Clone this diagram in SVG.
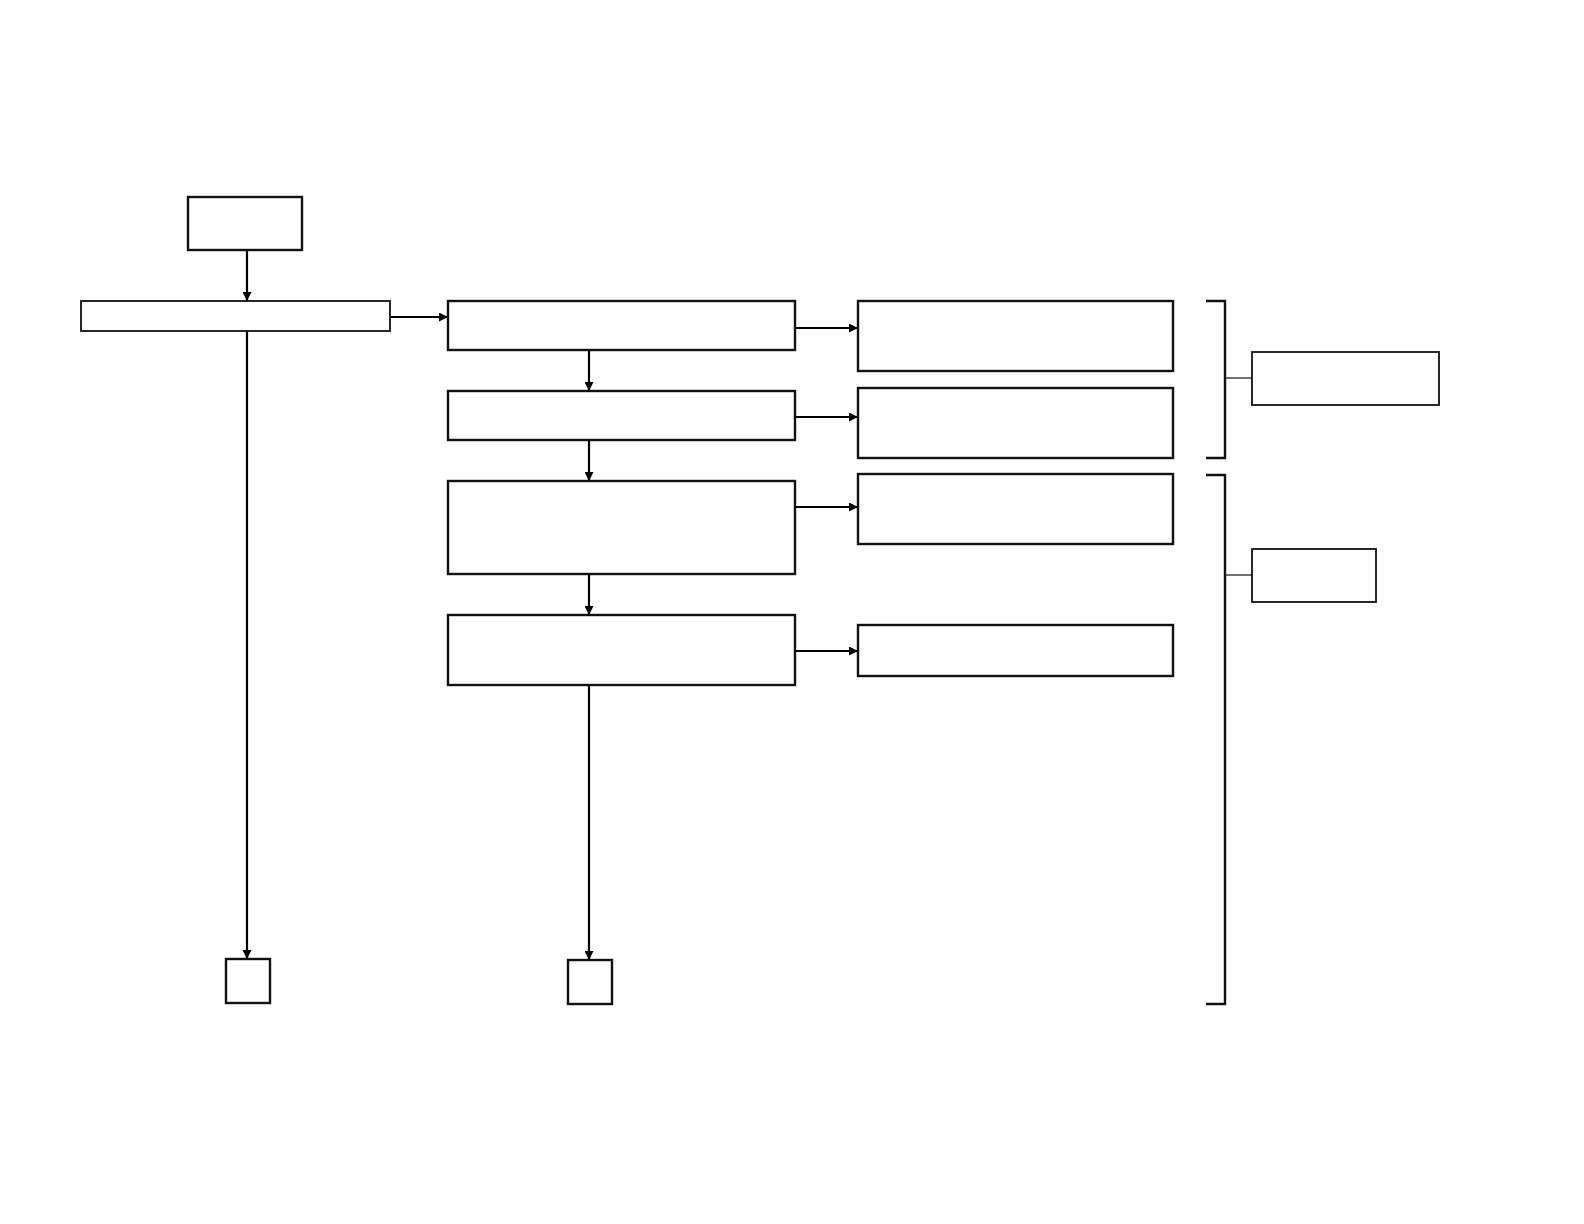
<svg xmlns="http://www.w3.org/2000/svg" width="1584" height="1224" viewBox="0 0 1584 1224">
<style>
.box{fill:#fff;stroke:#111;stroke-width:2.4}
.thin{fill:#fff;stroke:#111;stroke-width:1.8}
.arr{fill:none;stroke:#000;stroke-width:2.2;marker-end:url(#ah)}
.br{fill:none;stroke:#111;stroke-width:2.4}
.ln{fill:none;stroke:#222;stroke-width:1.3}
</style>
<defs>
<marker id="ah" viewBox="0 0 10 10" refX="10" refY="5" markerWidth="10" markerHeight="9" markerUnits="userSpaceOnUse" orient="auto">
<path d="M0,0 L10,5 L0,10 z" fill="#000"/>
</marker>
</defs>
<rect width="1584" height="1224" fill="#fff"/>
<g id="connectors">
<line class="arr" x1="247" y1="251" x2="247" y2="301"/>
<line class="arr" x1="390" y1="317" x2="448" y2="317"/>
<line class="arr" x1="247" y1="331" x2="247" y2="959"/>
<line class="arr" x1="589" y1="350" x2="589" y2="391"/>
<line class="arr" x1="589" y1="440" x2="589" y2="481"/>
<line class="arr" x1="589" y1="574" x2="589" y2="615"/>
<line class="arr" x1="589" y1="685" x2="589" y2="960"/>
<line class="arr" x1="795" y1="328" x2="858" y2="328"/>
<line class="arr" x1="795" y1="417" x2="858" y2="417"/>
<line class="arr" x1="795" y1="507" x2="858" y2="507"/>
<line class="arr" x1="795" y1="651" x2="858" y2="651"/>
<path class="br" d="M1206,301 H1225 V458 H1206"/>
<line class="ln" x1="1225" y1="378" x2="1252" y2="378"/>
<path class="br" d="M1206,475 H1225 V1004 H1206"/>
<line class="ln" x1="1225" y1="575" x2="1252" y2="575"/>
</g>
<g id="n-top"><rect class="box" x="188" y="197" width="114" height="53"/></g>
<g id="n-long"><rect class="thin" x="81" y="301" width="309" height="30"/></g>
<g id="n-a"><rect class="box" x="448" y="301" width="347" height="49"/></g>
<g id="n-b"><rect class="box" x="448" y="391" width="347" height="49"/></g>
<g id="n-c"><rect class="box" x="448" y="481" width="347" height="93"/></g>
<g id="n-d"><rect class="box" x="448" y="615" width="347" height="70"/></g>
<g id="n-r1"><rect class="box" x="858" y="301" width="315" height="70"/></g>
<g id="n-r2"><rect class="box" x="858" y="388" width="315" height="70"/></g>
<g id="n-r3"><rect class="box" x="858" y="474" width="315" height="70"/></g>
<g id="n-r4"><rect class="box" x="858" y="625" width="315" height="51"/></g>
<g id="n-g1"><rect class="thin" x="1252" y="352" width="187" height="53"/></g>
<g id="n-g2"><rect class="thin" x="1252" y="549" width="124" height="53"/></g>
<g id="n-end1"><rect class="box" x="226" y="959" width="44" height="44"/></g>
<g id="n-end2"><rect class="box" x="568" y="960" width="44" height="44"/></g>
</svg>
